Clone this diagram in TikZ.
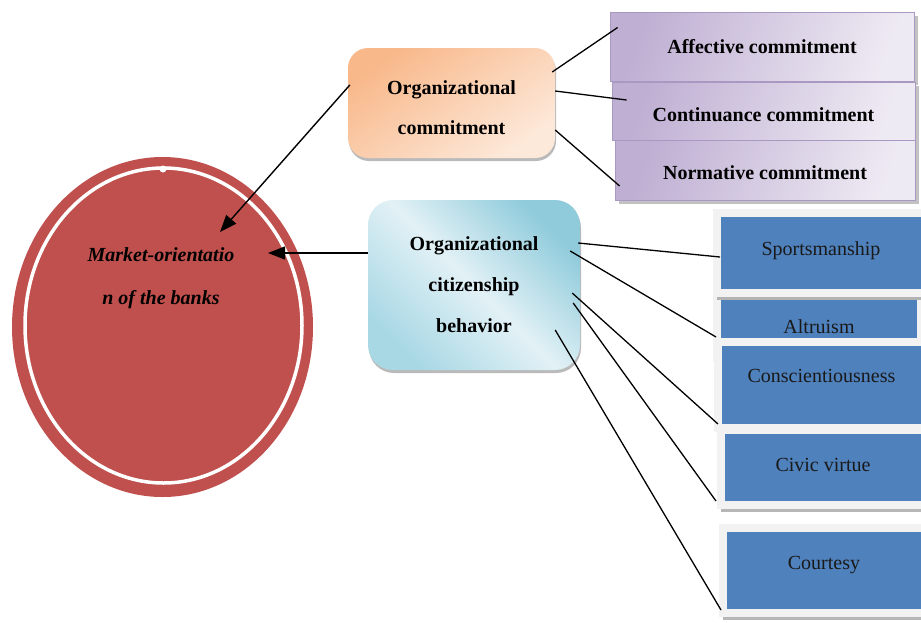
\documentclass[tikz,border=0pt]{standalone}
\usepackage{fontspec}
\setmainfont{Liberation Serif}
\usetikzlibrary{shapes.geometric,arrows.meta,shadows}

\definecolor{bankred}{HTML}{C0504D}
\definecolor{ocdark}{HTML}{F8B88A}
\definecolor{oclight}{HTML}{FDE9DA}
\definecolor{ocbdark}{HTML}{8FCBDB}
\definecolor{ocblight}{HTML}{E2F1F6}
\definecolor{ocbmid}{HTML}{A9D8E5}
\definecolor{violetdark}{HTML}{BFAFD3}
\definecolor{violetlight}{HTML}{EEEAF3}
\definecolor{violetedge}{HTML}{A898C2}
\definecolor{facetblue}{HTML}{4F81BD}
\definecolor{framegray}{HTML}{F2F2F2}

\tikzset{
  hub/.style={font=\fontsize{20}{41}\selectfont\bfseries, rounded corners=20pt,
    align=center, inner sep=0pt,
    drop shadow={shadow xshift=1pt, shadow yshift=-3pt, fill=black!45, opacity=.6}},
  commitbox/.style={font=\fontsize{20}{24}\selectfont\bfseries, draw=violetedge, line width=.8pt,
    left color=violetdark, right color=violetlight, shading angle=70,
    drop shadow={shadow xshift=4pt, shadow yshift=-4pt, fill=black!40, opacity=.6}},
  ocbbox/.style={font=\fontsize{20}{24}\selectfont, text=black!90, fill=facetblue,
    draw=framegray, line width=8pt, outer sep=0pt,
    drop shadow={shadow xshift=0pt, shadow yshift=-7pt, fill=black!40, opacity=.7}},
  link/.style={line width=1.3pt},
  pointer/.style={line width=1.4pt, -{Triangle[length=17pt,width=13pt]}},
}

\begin{document}
\begin{tikzpicture}[x=1pt,y=1pt]
  \useasboundingbox (0,0) rectangle (921,-622);

  % dependent variable
  \node[ellipse, fill=bankred, minimum width=301pt, minimum height=340pt] (market) at (162.5,-327) {};
  \node[ellipse, draw=white, line width=3.5pt, minimum width=277pt, minimum height=315pt] (ring) at (163.5,-325.5) {};
  \fill[white] (163,-169) circle (3.5);
  \node[align=center, font=\fontsize{20}{43}\selectfont\bfseries\itshape] (mtext) at (161,-278)
    {Market-orientatio\\n of the banks};

  % the two hubs
  \node[hub, top color=ocdark, bottom color=oclight, shading angle=35,
        minimum width=207pt, minimum height=110pt, font=\fontsize{20}{40}\selectfont\bfseries]
        (oc) at (451.5,-103) {\rule{0pt}{24pt}Organizational\\commitment};
  \node[hub, top color=ocbdark, bottom color=ocbmid, middle color=ocblight, shading angle=-45,
        rounded corners=25pt, minimum width=212pt, minimum height=170pt]
        (ocb) at (474,-285) {Organizational\\citizenship\\behavior};

  % commitment facets
  \node[commitbox, minimum width=304pt, minimum height=69pt] (aff) at (762,-46.5) {Affective commitment};
  \node[commitbox, minimum width=303pt, minimum height=58pt, text height=22pt] (cont) at (763.5,-111) {Continuance commitment};
  \node[commitbox, minimum width=300pt, minimum height=60pt, text height=20pt] (norm) at (765,-170) {Normative commitment};

  % citizenship facets
  \node[ocbbox, minimum width=204pt, minimum height=62pt] (alt) at (819,-327) {Altruism};
  \node[ocbbox, minimum width=208pt, minimum height=80pt, text depth=9pt] (sport) at (821,-253) {Sportsmanship};
  \node[ocbbox, minimum width=207pt, minimum height=86pt, text depth=18pt] (consc) at (821.5,-385) {Conscientiousness};
  \node[ocbbox, minimum width=204pt, minimum height=75pt, text depth=6pt] (civic) at (823,-467.5) {Civic virtue};
  \node[ocbbox, minimum width=202pt, minimum height=85pt, text depth=16pt] (court) at (824,-570.5) {Courtesy};

  \begin{scope}[link]
    \draw ([shift={(-3,31)}]oc.east) to ([shift={(8,19)}]aff.west);
    \draw ([shift={(0,12)}]oc.east) to ([shift={(15,11)}]cont.west);
    \draw ([shift={(0,-27)}]oc.east) to ([shift={(5,-16)}]norm.west);
    \draw ([shift={(-2,42)}]ocb.east) to ([shift={(3,-4)}]sport.west);
    \draw ([shift={(-10,34)}]ocb.east) to ([shift={(-1,-10)}]alt.west);
    \draw ([shift={(-8,-8)}]ocb.east) to ([shift={(0,-39)}]consc.west);
    \draw ([shift={(-7,-18)}]ocb.east) to ([shift={(-5,-33.5)}]civic.west);
    \draw ([shift={(-25,-45)}]ocb.east) to ([shift={(-2,-39.5)}]court.west);
  \end{scope}

  \draw[pointer] ([shift={(2,18)}]oc.west) to ([shift={(57.5,95)}]market.center);
  \draw[pointer] ([shift={(0,32)}]ocb.west) to ([shift={(105.5,74)}]market.center);
\end{tikzpicture}
\end{document}
